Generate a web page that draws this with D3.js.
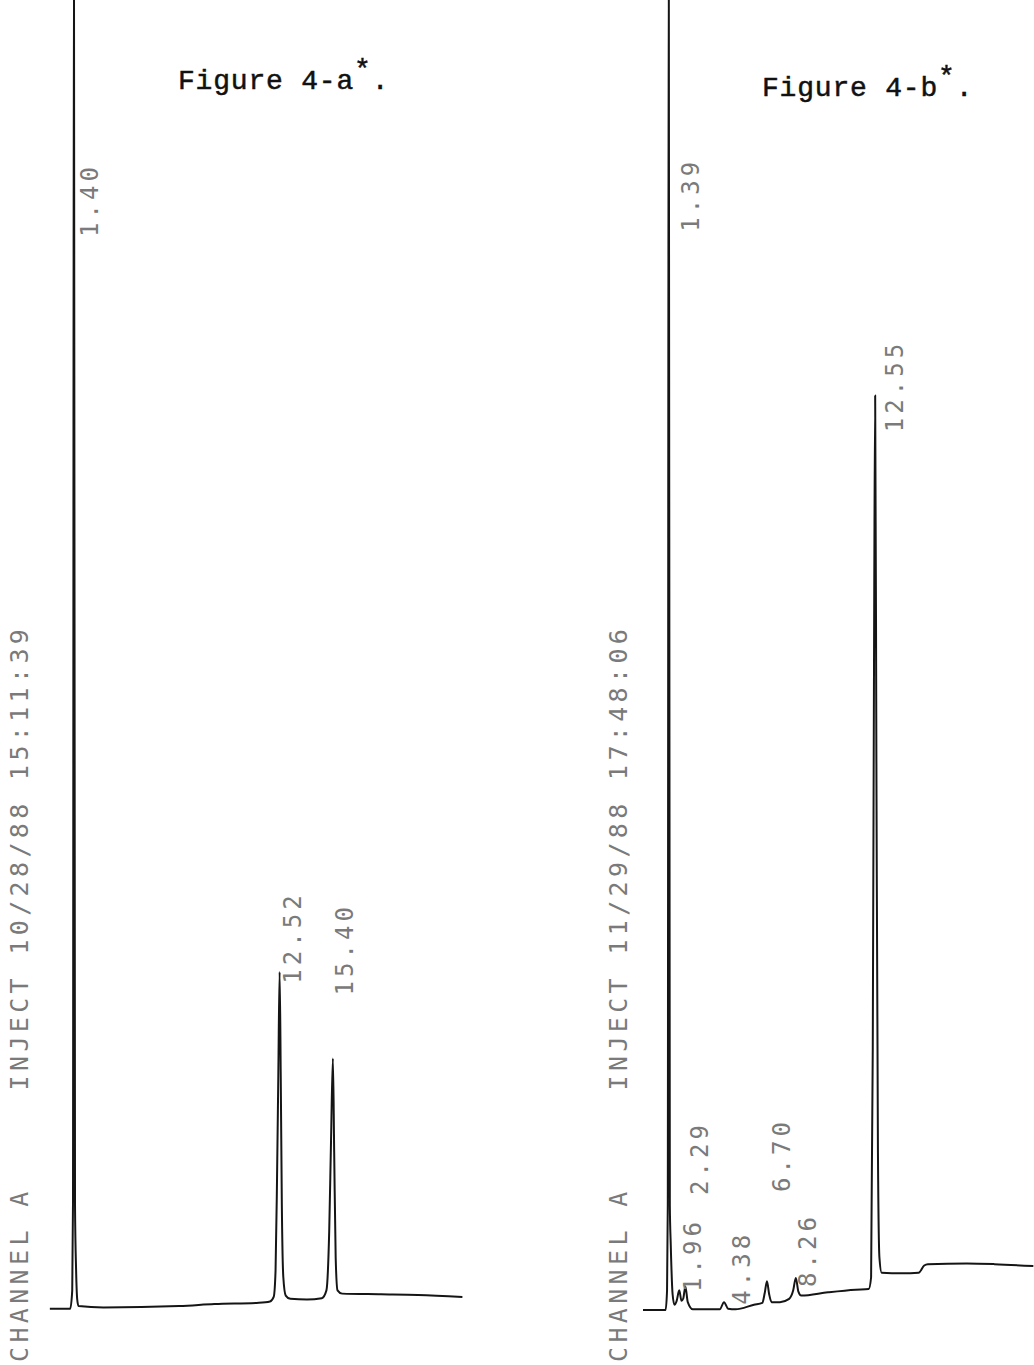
<!DOCTYPE html>
<html>
<head>
<meta charset="utf-8">
<script src="https://cdn.jsdelivr.net/npm/d3@7"></script>
<style>
  html, body { margin: 0; background: #ffffff; }
  svg { display: block; }
</style>
</head>
<body>
<script>
// ---- Run A: retention time (min) and detector response ----
const runATime = [0.10, 1.20, 1.31, 1.35, 1.40, 1.46, 1.52, 1.58, 1.65, 3.0, 7.1, 9.0, 11.4, 12.0, 12.2, 12.3, 12.38, 12.45, 12.52, 12.58, 12.64, 12.72, 12.85, 13.1, 14.0, 14.8, 15.05, 15.2, 15.3, 15.40, 15.47, 15.55, 15.65, 15.9, 18.0, 20.0, 22.4];
const runASignal = [0.1, 0.1, 1.5, 8, 110, 8, 3, 0.8, 0.3, 0.2, 0.3, 0.45, 0.55, 0.65, 1.0, 3.0, 10, 18, 25.8, 18, 8, 2.5, 1.1, 0.85, 0.8, 0.9, 1.5, 6, 13, 19.2, 12, 4, 1.5, 1.25, 1.2, 1.15, 1.0];
const runAPeaks = [1.40, 12.52, 15.40];

// ---- Run B: retention time (min) and detector response ----
const runBTime = [0.0, 1.22, 1.30, 1.34, 1.39, 1.45, 1.50, 1.60, 1.70, 1.82, 1.96, 2.08, 2.18, 2.29, 2.42, 2.70, 4.15, 4.38, 4.60, 5.0, 6.0, 6.45, 6.58, 6.70, 6.82, 6.95, 7.4, 7.9, 8.12, 8.26, 8.40, 8.55, 10.0, 11.5, 12.2, 12.33, 12.42, 12.50, 12.55, 12.62, 12.70, 12.78, 12.90, 14.0, 14.9, 15.2, 15.4, 17.5, 19.0, 21.1];
const runBSignal = [0.0, 0.0, 1.5, 8, 110, 8, 5, 1.2, 0.4, 0.7, 1.5, 0.7, 0.9, 1.8, 0.6, 0.05, 0.05, 0.6, 0.1, 0.05, 0.4, 0.55, 1.3, 2.2, 1.2, 0.6, 0.6, 0.85, 1.5, 2.45, 1.4, 1.1, 1.35, 1.55, 1.6, 2.5, 20, 55, 69.8, 40, 12, 4, 2.85, 2.8, 2.85, 3.4, 3.5, 3.55, 3.5, 3.35];
const runBPeaks = [1.39, 1.96, 2.29, 4.38, 6.70, 8.26, 12.55];

// ---- Printed header and figure captions ----
const runAHeader = ["CHANNEL A", "INJECT", "10/28/88", "15:11:39"];
const runBHeader = ["CHANNEL A", "INJECT", "11/29/88", "17:48:06"];
const figureTitles = ["Figure 4-a", "Figure 4-b"];

// ---- Layout ----
const W = 1034, H = 1365;
const PX_PER_MIN = 18.5;
const headerSlots = [0, 14, 21, 30];        // character column of each header field

const panels = [
  {
    time: runATime, signal: runASignal, peaks: runAPeaks, header: runAHeader, title: figureTitles[0],
    x0: 48, tEnd: 22.4, headerX: 10, titleX: 178, titleY: 89,
    // label start level (response units) and offset right of the apex (px)
    labelLevel: [81.9, 24.9, 24.0],
    labelDx: [6, 3.5, 2]
  },
  {
    time: runBTime, signal: runBSignal, peaks: runBPeaks, header: runBHeader, title: figureTitles[1],
    x0: 643, tEnd: 21.1, headerX: 609, titleX: 762, titleY: 96,
    labelLevel: [82.3, 1.37, 8.78, 0.4, 9.0, 1.76, 67.0],
    labelDx: [12, 4, 5, 8, 5, 2, 10]
  }
];

const svg = d3.select("body").append("svg")
  .attr("width", W).attr("height", H)
  .attr("viewBox", `0 0 ${W} ${H}`);

const y = d3.scaleLinear().domain([0, 100]).range([1310, 0]);

const printFont = "'DejaVu Sans Mono', 'Liberation Mono', monospace";

panels.forEach(p => {
  const x = d3.scaleLinear()
    .domain([0, p.tEnd])
    .range([p.x0, p.x0 + p.tEnd * PX_PER_MIN]);

  const pts = p.time.map((t, i) => [t, p.signal[i]]);

  const line = d3.line()
    .x(d => x(d[0]))
    .y(d => y(d[1]))
    .curve(d3.curveMonotoneX);

  // detector trace
  svg.append("path")
    .datum(pts)
    .attr("d", line)
    .attr("fill", "none")
    .attr("stroke", "#151515")
    .attr("stroke-width", 2)
    .attr("stroke-linejoin", "round");

  // retention-time annotations printed alongside each peak
  const fmt = d3.format(".2f");
  svg.append("g").selectAll("text")
    .data(p.peaks)
    .join("text")
    .attr("transform", (t, i) => `translate(${x(t) + p.labelDx[i] + 18},${y(p.labelLevel[i])}) rotate(-90)`)
    .attr("font-family", printFont)
    .attr("font-size", 24)
    .attr("letter-spacing", 4.05)
    .attr("fill", "#7a7a7a")
    .text(t => fmt(t));

  // run header printed up the left edge
  const pitch = 19.4;
  svg.append("g").selectAll("text")
    .data(p.header)
    .join("text")
    .attr("transform", (s, i) => `translate(${p.headerX + 18},${1362 - headerSlots[i] * pitch}) rotate(-90)`)
    .attr("font-family", printFont)
    .attr("font-size", 25)
    .attr("letter-spacing", 4.35)
    .attr("fill", "#7a7a7a")
    .text(s => s);

  // typed caption
  const title = svg.append("text")
    .attr("x", p.titleX)
    .attr("y", p.titleY)
    .attr("font-family", "'Courier New', 'Liberation Mono', monospace")
    .attr("font-size", 28)
    .attr("letter-spacing", 0.8)
    .attr("fill", "#111")
    .attr("stroke", "#111")
    .attr("stroke-width", 0.5);
  title.append("tspan").text(p.title);
  title.append("tspan").attr("dy", -11).text("*");
  title.append("tspan").attr("dy", 11).text(".");
});
</script>
</body>
</html>
